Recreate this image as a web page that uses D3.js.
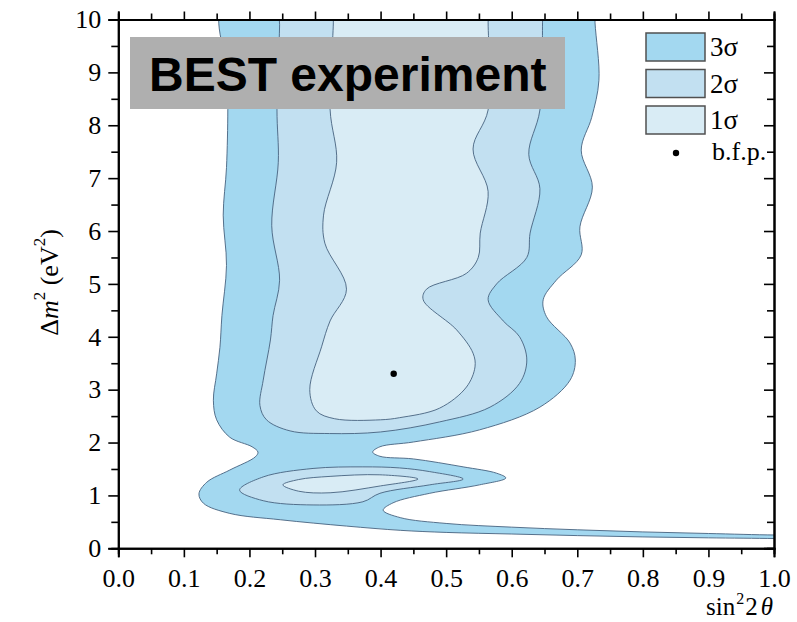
<!DOCTYPE html>
<html>
<head>
<meta charset="utf-8">
<script src="https://cdn.jsdelivr.net/npm/d3@7"></script>
<style>
  html, body { margin: 0; padding: 0; background: #ffffff; }
  svg { display: block; }
</style>
</head>
<body>
<svg id="chart" width="797" height="622"></svg>
<script>
// Allowed-region contours in (sin^2 2θ, Δm^2 [eV^2]) space.
// Each outline is a closed ring; parts above Δm^2 = 10 or right of 1.0 are clipped.
const sigma3Outline = [
  [0.164, 10.4], [0.166, 9.0], [0.167, 8.3], [0.165, 7.2], [0.160, 6.3], [0.165, 5.35],
  [0.158, 4.4], [0.155, 3.8], [0.150, 3.3], [0.145, 2.8], [0.150, 2.43], [0.170, 2.1],
  [0.204, 1.92], [0.213, 1.82], [0.209, 1.73], [0.170, 1.48], [0.135, 1.25], [0.123, 1.03],
  [0.130, 0.85], [0.170, 0.66], [0.247, 0.54], [0.348, 0.42], [0.430, 0.34],
  [0.50, 0.30], [0.60, 0.27], [0.70, 0.24], [0.80, 0.215], [0.90, 0.198], [1.00, 0.185],
  [1.04, 0.18], [1.04, 0.255],
  [1.00, 0.252], [0.90, 0.28], [0.80, 0.31], [0.70, 0.35], [0.60, 0.40], [0.50, 0.47],
  [0.43, 0.58], [0.404, 0.72], [0.419, 0.86], [0.475, 1.04], [0.551, 1.2], [0.591, 1.33],
  [0.577, 1.42], [0.526, 1.54], [0.45, 1.69], [0.399, 1.74], [0.388, 1.82], [0.399, 1.92],
  [0.45, 2.01], [0.551, 2.24], [0.643, 2.67], [0.689, 3.18], [0.697, 3.56], [0.689, 3.88],
  [0.653, 4.38], [0.648, 4.7], [0.668, 5.07], [0.706, 5.55], [0.704, 6.08], [0.723, 6.83],
  [0.706, 7.53], [0.722, 8.15], [0.733, 8.85], [0.727, 9.95], [0.726, 10.4]
];

const sigma2Upper = [
  [0.246, 10.4], [0.246, 9.9], [0.242, 8.3], [0.244, 7.3], [0.234, 6.1], [0.246, 5.07],
  [0.236, 4.4], [0.232, 3.94], [0.221, 3.18], [0.216, 2.7], [0.226, 2.43], [0.262, 2.22],
  [0.322, 2.17], [0.40, 2.2], [0.49, 2.39], [0.567, 2.67], [0.612, 3.12], [0.623, 3.56],
  [0.612, 4.0], [0.587, 4.3], [0.564, 4.7], [0.577, 5.0], [0.623, 5.5], [0.628, 5.96],
  [0.643, 6.8], [0.626, 7.45], [0.643, 8.29], [0.647, 9.95], [0.647, 10.4]
];

const sigma2Lower = [
  [0.185, 1.1], [0.221, 1.35], [0.297, 1.51], [0.373, 1.54], [0.429, 1.52], [0.475, 1.45],
  [0.526, 1.31], [0.475, 1.2], [0.399, 1.04], [0.373, 0.88], [0.297, 0.82], [0.221, 0.9]
];

const sigma1Upper = [
  [0.328, 10.4], [0.328, 9.95], [0.323, 8.3], [0.333, 7.3], [0.313, 6.3], [0.315, 5.77],
  [0.348, 4.9], [0.323, 4.3], [0.31, 3.81], [0.292, 3.0], [0.302, 2.6], [0.33, 2.45],
  [0.40, 2.43], [0.429, 2.47], [0.49, 2.65], [0.531, 3.05], [0.544, 3.43], [0.541, 3.69],
  [0.516, 4.13], [0.465, 4.7], [0.47, 4.9], [0.531, 5.2], [0.549, 5.5], [0.552, 5.96],
  [0.564, 6.75], [0.541, 7.55], [0.564, 8.29], [0.564, 9.95], [0.564, 10.4]
];

const sigma1Lower = [
  [0.251, 1.2], [0.275, 1.3], [0.323, 1.36], [0.399, 1.39], [0.457, 1.31],
  [0.40, 1.18], [0.323, 1.05], [0.275, 1.08]
];

const bestFit = [0.42, 3.3];

const xTicks = [0, 0.1, 0.2, 0.3, 0.4, 0.5, 0.6, 0.7, 0.8, 0.9, 1.0];
const xMinorTicks = [0.05, 0.15, 0.25, 0.35, 0.45, 0.55, 0.65, 0.75, 0.85, 0.95];
const yTicks = [0, 1, 2, 3, 4, 5, 6, 7, 8, 9, 10];
const yMinorTicks = [0.5, 1.5, 2.5, 3.5, 4.5, 5.5, 6.5, 7.5, 8.5, 9.5];

const legendLabels = ["3σ", "2σ", "1σ"];
const legendColors = ["#a3d8f0", "#c2e0f1", "#d9ecf5"];
const bfpLabel = "b.f.p.";
const titleText = "BEST experiment";

const svg = d3.select("#chart");
const x = d3.scaleLinear().domain([0, 1]).range([118.3, 774]);
const y = d3.scaleLinear().domain([0, 10]).range([548.3, 19.5]);

const serif = "'Liberation Serif', 'Times New Roman', serif";

svg.append("defs").append("clipPath").attr("id", "plot-clip")
  .append("rect")
  .attr("x", x(0)).attr("y", y(10))
  .attr("width", x(1) - x(0)).attr("height", y(0) - y(10));

const line = d3.line()
  .x(d => x(d[0])).y(d => y(d[1]))
  .curve(d3.curveCatmullRomClosed.alpha(0.5));

const regions = svg.append("g").attr("clip-path", "url(#plot-clip)");
const contourStroke = "#46627f";

const layers = [
  { ring: sigma3Outline, fill: legendColors[0] },
  { ring: sigma2Upper, fill: legendColors[1] },
  { ring: sigma2Lower, fill: legendColors[1] },
  { ring: sigma1Upper, fill: legendColors[2] },
  { ring: sigma1Lower, fill: legendColors[2] }
];
regions.selectAll("path.region").data(layers).join("path")
  .attr("class", "region")
  .attr("d", d => line(d.ring))
  .attr("fill", d => d.fill)
  .attr("stroke", contourStroke)
  .attr("stroke-width", 0.9);

// best-fit point
svg.append("circle")
  .attr("cx", x(bestFit[0])).attr("cy", y(bestFit[1]))
  .attr("r", 3.2).attr("fill", "#000");

// axes
function styleAxis(g) {
  g.select(".domain").attr("stroke", "#000").attr("stroke-width", 2);
  g.selectAll(".tick line").attr("stroke", "#000").attr("stroke-width", 1.6);
  g.selectAll("text")
    .style("font-family", serif).style("font-size", "26px").attr("fill", "#000");
}

const axisBottomG = svg.append("g").attr("transform", `translate(0,${y(0)})`)
  .call(d3.axisBottom(x).tickValues(xTicks).tickFormat(d3.format(".1f")).tickSize(9).tickPadding(11));
styleAxis(axisBottomG);
const axisBottomMinorG = svg.append("g").attr("transform", `translate(0,${y(0)})`)
  .call(d3.axisBottom(x).tickValues(xMinorTicks).tickFormat("").tickSize(6));
styleAxis(axisBottomMinorG);

const axisTopG = svg.append("g").attr("transform", `translate(0,${y(10)})`)
  .call(d3.axisTop(x).tickValues(xTicks).tickFormat("").tickSize(8));
styleAxis(axisTopG);
const axisTopMinorG = svg.append("g").attr("transform", `translate(0,${y(10)})`)
  .call(d3.axisTop(x).tickValues(xMinorTicks).tickFormat("").tickSize(6));
styleAxis(axisTopMinorG);

const axisLeftG = svg.append("g").attr("transform", `translate(${x(0)},0)`)
  .call(d3.axisLeft(y).tickValues(yTicks).tickFormat(d3.format("d")).tickSize(10).tickPadding(7));
styleAxis(axisLeftG);
const axisLeftMinorG = svg.append("g").attr("transform", `translate(${x(0)},0)`)
  .call(d3.axisLeft(y).tickValues(yMinorTicks).tickFormat("").tickSize(7));
styleAxis(axisLeftMinorG);

// right axis ticks point into the plot
const axisRightG = svg.append("g").attr("transform", `translate(${x(1)},0)`)
  .call(d3.axisLeft(y).tickValues(yTicks).tickFormat("").tickSize(10));
styleAxis(axisRightG);
const axisRightMinorG = svg.append("g").attr("transform", `translate(${x(1)},0)`)
  .call(d3.axisLeft(y).tickValues(yMinorTicks).tickFormat("").tickSize(7));
styleAxis(axisRightMinorG);

// axis titles
const xt = svg.append("text")
  .style("font-family", serif).style("font-size", "25px").attr("fill", "#000")
  .attr("text-anchor", "end")
  .attr("x", 773).attr("y", 615);
xt.append("tspan").text("sin");
xt.append("tspan").style("font-size", "16px").attr("dy", -11).attr("dx", 1).text("2");
xt.append("tspan").attr("dy", 11).attr("dx", 1).text("2");
xt.append("tspan").style("font-style", "italic").attr("dx", 3).text("θ");

const yt = svg.append("text")
  .style("font-family", serif).style("font-size", "26px").attr("fill", "#000")
  .attr("text-anchor", "middle")
  .attr("transform", `translate(58,${(225 + 340) / 2}) rotate(-90)`);
yt.append("tspan").text("Δ");
yt.append("tspan").style("font-style", "italic").text("m");
yt.append("tspan").style("font-size", "17px").attr("dy", -13).text("2");
yt.append("tspan").attr("dy", 13).text(" (eV");
yt.append("tspan").style("font-size", "17px").attr("dy", -13).text("2");
yt.append("tspan").attr("dy", 13).text(")");

// legend
const legend = svg.append("g");
const legendRowY = [33, 69.5, 106];
legend.selectAll("rect").data(legendLabels).join("rect")
  .attr("x", 646).attr("y", (d, i) => legendRowY[i])
  .attr("width", 59).attr("height", 28)
  .attr("fill", (d, i) => legendColors[i])
  .attr("stroke", "#505050").attr("stroke-width", 1.5);
legend.selectAll("text.lab").data(legendLabels).join("text")
  .attr("class", "lab")
  .attr("x", 710).attr("y", (d, i) => legendRowY[i] + 23)
  .style("font-family", serif).style("font-size", "27px").attr("fill", "#000")
  .text(d => d);
legend.append("circle").attr("cx", 676).attr("cy", 153).attr("r", 3.2).attr("fill", "#000");
legend.append("text").attr("x", 712).attr("y", 160)
  .style("font-family", serif).style("font-size", "26px").attr("fill", "#000")
  .text(bfpLabel);

// title banner
svg.append("rect").attr("x", 130).attr("y", 37).attr("width", 435).attr("height", 72)
  .attr("fill", "#afafaf");
svg.append("text").attr("x", 149).attr("y", 91)
  .style("font-family", "'Liberation Sans', Arial, sans-serif")
  .style("font-weight", "bold").style("font-size", "48px").attr("fill", "#000")
  .text(titleText);
</script>
</body>
</html>
